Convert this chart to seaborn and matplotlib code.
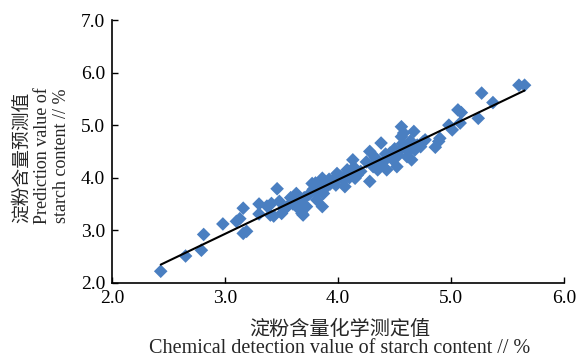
import matplotlib
matplotlib.use("Agg")
import matplotlib.pyplot as plt
import seaborn as sns
import pandas as pd

chem_x = [2.43, 2.65, 2.79, 2.81, 2.98, 3.10, 3.13, 3.16, 3.16, 3.19, 3.30, 3.30, 3.37, 3.40, 3.41,
          3.43, 3.46, 3.48, 3.50, 3.52, 3.55, 3.58, 3.60, 3.63, 3.65, 3.66, 3.66, 3.68, 3.69, 3.70,
          3.72, 3.74, 3.77, 3.78, 3.80, 3.81, 3.81, 3.84, 3.86, 3.86, 3.87, 3.88, 3.90, 3.92, 3.93,
          3.96, 3.98, 3.99, 4.02, 4.05, 4.06, 4.08, 4.08, 4.10, 4.13, 4.14, 4.15, 4.17, 4.20, 4.25,
          4.28, 4.28, 4.30, 4.31, 4.33, 4.35, 4.37, 4.38, 4.40, 4.42, 4.43, 4.45, 4.46, 4.48, 4.50,
          4.52, 4.53, 4.55, 4.56, 4.56, 4.57, 4.58, 4.60, 4.61, 4.62, 4.64, 4.65, 4.67, 4.68, 4.70,
          4.73, 4.75, 4.77, 4.86, 4.89, 4.90, 4.98, 5.01, 5.06, 5.09, 5.08, 5.24, 5.27, 5.37, 5.60,
          5.65]
pred_y = [2.22, 2.51, 2.62, 2.92, 3.12, 3.17, 3.22, 3.42, 2.94, 2.98, 3.50, 3.31, 3.46, 3.29, 3.51,
          3.27, 3.79, 3.55, 3.32, 3.40, 3.45, 3.62, 3.50, 3.70, 3.58, 3.51, 3.39, 3.32, 3.29, 3.62,
          3.45, 3.68, 3.89, 3.78, 3.90, 3.58, 3.71, 3.80, 3.45, 3.99, 3.70, 3.92, 3.83, 3.97, 3.88,
          3.96, 3.86, 4.08, 4.02, 3.96, 3.83, 4.08, 4.15, 4.00, 4.34, 4.20, 3.99, 4.05, 4.12, 4.30,
          3.93, 4.50, 4.25, 4.21, 4.38, 4.15, 4.21, 4.66, 4.30, 4.45, 4.15, 4.40, 4.47, 4.35, 4.55,
          4.21, 4.42, 4.53, 4.97, 4.78, 4.65, 4.85, 4.60, 4.40, 4.50, 4.70, 4.34, 4.88, 4.53, 4.62,
          4.59, 4.68, 4.72, 4.58, 4.69, 4.75, 5.00, 4.91, 5.29, 5.24, 5.04, 5.13, 5.61, 5.43, 5.76,
          5.76]

x_ticks = [2.0, 3.0, 4.0, 5.0, 6.0]
y_ticks = [2.0, 3.0, 4.0, 5.0, 6.0, 7.0]
x_tick_labels = ["2.0", "3.0", "4.0", "5.0", "6.0"]
y_tick_labels = ["2.0", "3.0", "4.0", "5.0", "6.0", "7.0"]
x_label_cn = "淀粉含量化学测定值"
x_label_en = "Chemical detection value of starch content // %"
y_label_cn = "淀粉含量预测值"
y_label_en1 = "Prediction value of"
y_label_en2 = "starch content // %"

df = pd.DataFrame({"chem": chem_x, "pred": pred_y})

sns.set_theme(style="ticks")
plt.rcParams["font.family"] = ["Liberation Serif", "Noto Sans CJK SC", "DejaVu Sans"]

fig = plt.figure(figsize=(5.78, 3.58), dpi=100)
ax = fig.add_axes([0.194, 0.21, 0.782, 0.734])

sns.regplot(data=df, x="chem", y="pred", ax=ax, ci=None, marker="D",
            scatter_kws={"s": 48, "color": "#4a7fc1", "edgecolor": "none", "alpha": 1},
            line_kws={"color": "black", "linewidth": 1.5, "zorder": 3})

ax.set_xlim(2.0, 6.0)
ax.set_ylim(2.0, 7.0)
ax.set_xticks(x_ticks)
ax.set_xticklabels(x_tick_labels)
ax.set_yticks(y_ticks)
ax.set_yticklabels(y_tick_labels)
ax.tick_params(direction="in", length=4, width=1, labelsize=14, colors="black", pad=5)
for s in ["top", "right"]:
    ax.spines[s].set_visible(False)
for s in ["left", "bottom"]:
    ax.spines[s].set_linewidth(1.2)
    ax.spines[s].set_color("black")
ax.set_xlabel("")
ax.set_ylabel("")

fig.text(0.588, 0.064, x_label_cn, fontsize=14.5, ha="center", va="baseline",
         family=["Noto Sans CJK SC", "DejaVu Sans"])
fig.text(0.588, 0.015, x_label_en, fontsize=14.5, ha="center", va="baseline")
fig.text(0.037, 0.56, y_label_cn, fontsize=13.5, ha="center", va="center", rotation=90,
         family=["Noto Sans CJK SC", "DejaVu Sans"])
fig.text(0.073, 0.566, y_label_en1, fontsize=13, ha="center", va="center", rotation=90)
fig.text(0.107, 0.566, y_label_en2, fontsize=13, ha="center", va="center", rotation=90)

fig.savefig("out.png", dpi=100, facecolor="white")
